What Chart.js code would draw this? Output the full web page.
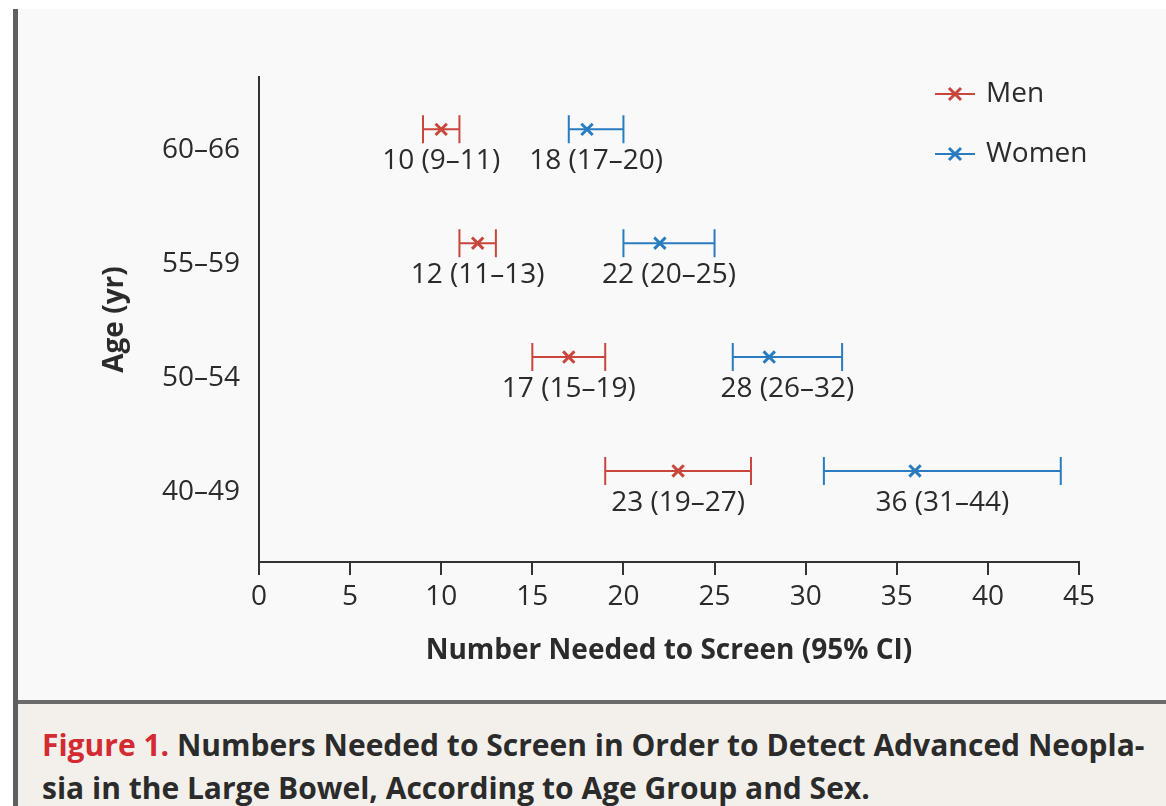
<!DOCTYPE html>
<html>
<head>
<meta charset="utf-8">
<script src="https://cdn.jsdelivr.net/npm/chart.js@4.4.1/dist/chart.umd.min.js"></script>
<style>
  html, body { margin: 0; padding: 0; background: #ffffff; overflow: hidden; }
  #frame {
    position: absolute; top: 9px; left: 13px; right: 0; bottom: 0;
    border-left: 5px solid #5f5f5f; background: #f9f9f9;
  }
  #plot { position: relative; width: 1148px; height: 691px; }
  #caption {
    border-top: 4px solid #6b6b6b; background: #f3f0ec;
    padding: 19px 0 0 24px; height: 200px;
    font-family: 'Open Sans', sans-serif; font-weight: 700; font-size: 30px;
    line-height: 43px; color: #2b2b2b; white-space: nowrap;
  }
  #caption .fig { color: #d42a32; }
</style>
</head>
<body>
<div id="frame">
  <div id="plot"><canvas id="myChart"></canvas></div>
  <div id="caption"><span class="fig">Figure 1.</span> Numbers Needed to Screen in Order to Detect Advanced Neopla-<br>sia in the Large Bowel, According to Age Group and Sex.</div>
</div>
<script>
// age groups, top to bottom
const ageGroups = ['60–66', '55–59', '50–54', '40–49'];

// number needed to screen with 95% CI
const menNNS = [10, 12, 17, 23];
const menLow = [9, 11, 15, 19];
const menHigh = [11, 13, 19, 27];

const womenNNS = [18, 22, 28, 36];
const womenLow = [17, 20, 26, 31];
const womenHigh = [20, 25, 32, 44];

const seriesNames = ['Men', 'Women'];
const seriesColors = ['#c8463b', '#2a7cc0'];

const xMin = 0, xMax = 45, xStep = 5;

const textColor = '#2b2b2b';
const fontFamily = "'Open Sans', sans-serif";
const fontSize = 28;

// row position on the y scale: top group gets the highest value
function rowPos(i) { return ageGroups.length - i; }

function points(est, lo, hi) {
    return est.map(function (v, i) {
        return { x: v, y: rowPos(i), lo: lo[i], hi: hi[i] };
    });
}

const errorBars = {
    id: 'errorBars',
    beforeDatasetsDraw: function (chart) {
        const ctx = chart.ctx;
        const xs = chart.scales.x, ys = chart.scales.y;
        ctx.save();
        chart.data.datasets.forEach(function (ds) {
            ds.data.forEach(function (p) {
                const x1 = xs.getPixelForValue(p.lo);
                const x2 = xs.getPixelForValue(p.hi);
                const y = ys.getPixelForValue(p.y);
                ctx.strokeStyle = ds.borderColor;
                ctx.lineWidth = 2;
                ctx.beginPath();
                ctx.moveTo(x1, y); ctx.lineTo(x2, y);
                ctx.moveTo(x1, y - 14); ctx.lineTo(x1, y + 14);
                ctx.moveTo(x2, y - 14); ctx.lineTo(x2, y + 14);
                ctx.stroke();

                ctx.fillStyle = textColor;
                ctx.font = fontSize + 'px ' + fontFamily;
                ctx.textAlign = 'center';
                ctx.textBaseline = 'middle';
                ctx.fillText(p.x + ' (' + p.lo + '–' + p.hi + ')', (x1 + x2) / 2, y + 32);
            });
        });
        ctx.restore();
    }
};

const sideLegend = {
    id: 'sideLegend',
    afterDraw: function (chart) {
        const ctx = chart.ctx;
        const area = chart.chartArea;
        ctx.save();
        chart.data.datasets.forEach(function (ds, i) {
            const x0 = area.right - 144;
            const y = area.top + 17 + i * 60;
            ctx.strokeStyle = ds.borderColor;
            ctx.lineWidth = 2;
            ctx.beginPath();
            ctx.moveTo(x0, y); ctx.lineTo(x0 + 40, y);
            ctx.stroke();
            ctx.lineWidth = 3;
            ctx.beginPath();
            ctx.moveTo(x0 + 14, y - 6); ctx.lineTo(x0 + 26, y + 6);
            ctx.moveTo(x0 + 14, y + 6); ctx.lineTo(x0 + 26, y - 6);
            ctx.stroke();
            ctx.fillStyle = textColor;
            ctx.font = fontSize + 'px ' + fontFamily;
            ctx.textAlign = 'left';
            ctx.textBaseline = 'middle';
            ctx.fillText(ds.label, x0 + 51, y);
        });
        ctx.restore();
    }
};

document.addEventListener('DOMContentLoaded', function () {
    const ctx = document.getElementById('myChart').getContext('2d');

    new Chart(ctx, {
        type: 'scatter',
        data: {
            datasets: [
                {
                    label: seriesNames[0],
                    data: points(menNNS, menLow, menHigh),
                    borderColor: seriesColors[0],
                    backgroundColor: seriesColors[0],
                },
                {
                    label: seriesNames[1],
                    data: points(womenNNS, womenLow, womenHigh),
                    borderColor: seriesColors[1],
                    backgroundColor: seriesColors[1],
                }
            ]
        },
        options: {
            responsive: true,
            maintainAspectRatio: false,
            animation: false,
            events: [],
            layout: { padding: { top: 68, right: 87, left: 0, bottom: 0 } },
            elements: {
                point: { pointStyle: 'crossRot', radius: 8, borderWidth: 3 }
            },
            plugins: {
                legend: { display: false },
                tooltip: { enabled: false }
            },
            scales: {
                x: {
                    type: 'linear',
                    min: xMin,
                    max: xMax,
                    afterFit: function (s) { s.height = 138; },
                    ticks: {
                        stepSize: xStep,
                        padding: 5,
                        color: textColor,
                        font: { family: fontFamily, size: fontSize }
                    },
                    grid: {
                        display: true,
                        drawOnChartArea: false,
                        drawTicks: true,
                        tickLength: 13,
                        color: '#333333',
                        lineWidth: 2
                    },
                    border: { display: true, color: '#333333', width: 2 },
                    title: {
                        display: true,
                        text: 'Number Needed to Screen (95% CI)',
                        color: textColor,
                        font: { family: fontFamily, size: fontSize, weight: 'bold' },
                        padding: { top: 0, bottom: 32 }
                    }
                },
                y: {
                    type: 'linear',
                    min: 0.2,
                    max: 4.46,
                    afterFit: function (s) { s.width = 241; },
                    afterBuildTicks: function (s) {
                        s.ticks = ageGroups.map(function (g, i) { return { value: rowPos(i) }; });
                    },
                    ticks: {
                        padding: 19,
                        labelOffset: 21,
                        color: textColor,
                        font: { family: fontFamily, size: fontSize },
                        callback: function (v) { return ageGroups[ageGroups.length - v]; }
                    },
                    grid: {
                        display: true,
                        drawOnChartArea: false,
                        drawTicks: false
                    },
                    border: { display: true, color: '#333333', width: 2 },
                    title: {
                        display: true,
                        text: 'Age (yr)',
                        color: textColor,
                        font: { family: fontFamily, size: fontSize, weight: 'bold' },
                        padding: { top: 80, bottom: 0 }
                    }
                }
            }
        },
        plugins: [errorBars, sideLegend]
    });
});
</script>
</body>
</html>
